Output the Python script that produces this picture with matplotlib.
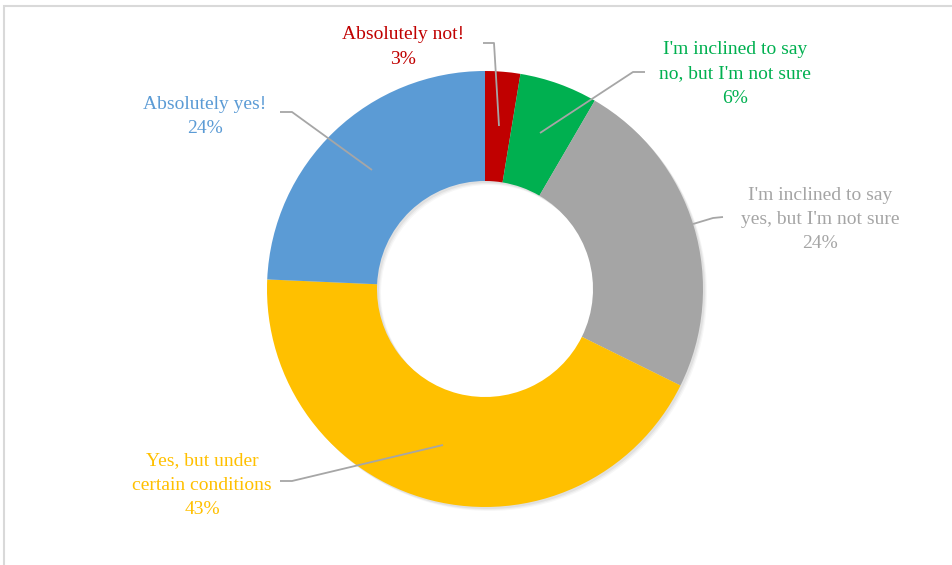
import matplotlib
matplotlib.use("Agg")
import matplotlib.pyplot as plt
from matplotlib.patches import Rectangle

# Survey answers, clockwise from 12 o'clock
categories = [
    "Absolutely not!",
    "I'm inclined to say\nno, but I'm not sure",
    "I'm inclined to say\nyes, but I'm not sure",
    "Yes, but under\ncertain conditions",
    "Absolutely yes!",
]
shares = [2.6, 5.8, 23.9, 43.4, 24.3]
colors = ["#C00000", "#00B050", "#A5A5A5", "#FFC000", "#5B9BD5"]

W, H = 953, 565
fig = plt.figure(figsize=(W / 100, H / 100), dpi=100)
ax = fig.add_axes([0, 0, 1, 1])

plt.rcParams["font.family"] = ["Liberation Serif", "DejaVu Serif"]


def Y(py):
    return H - py


cx, cy = 485, Y(289)
R, ring = 218, 110

# soft shadow under the ring
for k, a in enumerate([0.05, 0.04, 0.03]):
    ax.pie(shares, colors=["#000000"] * len(shares), startangle=90,
           counterclock=False, center=(cx + 2 + k, cy - 2 - k), radius=R,
           wedgeprops=dict(width=ring, alpha=a, linewidth=0))

ax.pie(shares, colors=colors, startangle=90, counterclock=False,
       center=(cx, cy), radius=R, wedgeprops=dict(width=ring, linewidth=0))
ax.set_xlim(0, W)
ax.set_ylim(0, H)
ax.set_aspect("equal")
ax.axis("off")

# chart frame
ax.add_patch(Rectangle((4, Y(H + 20)), W + 20, H + 14, fill=False,
                       edgecolor="#D9D9D9", linewidth=1.5))

# label block centre and leader polyline
label_pos = [
    (403, 47),
    (735, 74),
    (820, 219.5),
    (202, 485),
    (205, 116.5),
]
leaders = [
    [(483, 43), (494, 43), (499, 126)],
    [(645, 72), (633, 72), (540, 133)],
    [(723, 217), (713, 218), (693, 224)],
    [(280, 481), (292, 481), (443, 445)],
    [(280, 112), (292, 112), (372, 170)],
]

for name, val, col, (tx, ty), pts in zip(categories, shares, colors,
                                         label_pos, leaders):
    text = f"{name}\n{round(val)}%"
    ax.text(tx, Y(ty), text, color=col, fontsize=14,
            ha="center", va="center", linespacing=1.57)
    xs = [p[0] for p in pts]
    ys = [Y(p[1]) for p in pts]
    ax.plot(xs, ys, color="#A6A6A6", linewidth=1.3, solid_capstyle="butt")

fig.savefig("out.png", dpi=100, facecolor="white")
